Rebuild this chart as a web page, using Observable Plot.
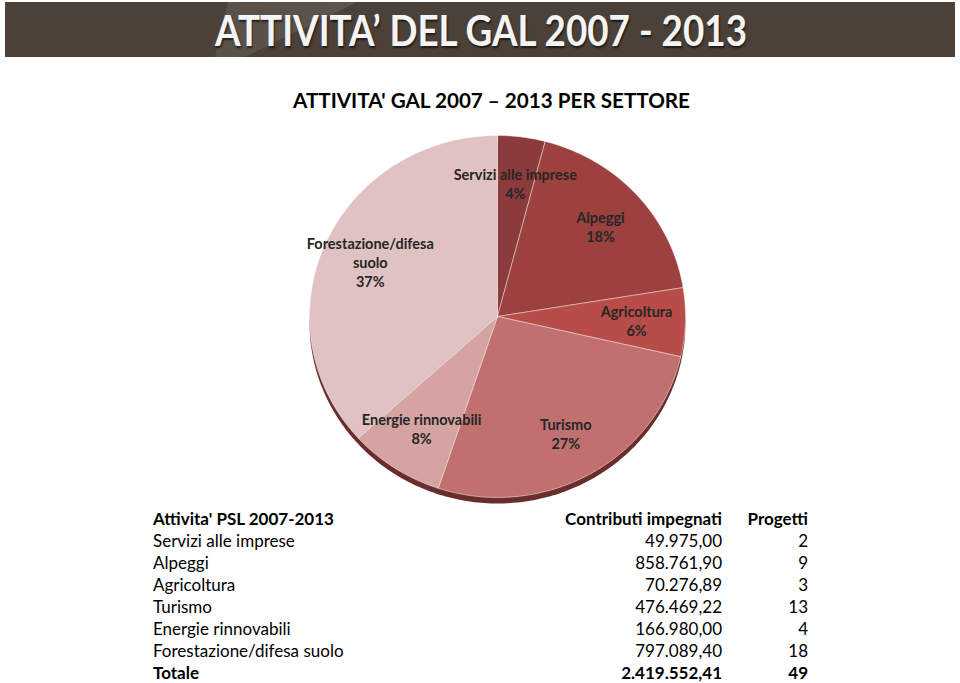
<!DOCTYPE html>
<html>
<head>
<meta charset="utf-8">
<script src="https://cdn.jsdelivr.net/npm/d3@7"></script>
<script src="https://cdn.jsdelivr.net/npm/@observablehq/plot@0.6"></script>
<style>
  html, body { margin: 0; padding: 0; background: #fff; }
  body { width: 960px; height: 683px; position: relative; overflow: hidden; font-family: Lato, "Open Sans", sans-serif; }
  #banner { position: absolute; left: 5px; top: 2px; width: 950px; height: 55px; background: #4b4138; overflow: hidden; }
  #stripe { position: absolute; left: 0; top: 0; width: 950px; height: 55px;
            background: linear-gradient(90deg, rgba(255,255,255,0.06), rgba(255,255,255,0.16));
            clip-path: polygon(223px 0, 352px 0, 240px 55px, 210px 55px); }
  #banner-text { position: absolute; top: 3px; left: 0; white-space: nowrap; color: #f4f4f4; font-weight: 700;
                 font-size: 42px; line-height: 50px; text-shadow: 1px 2px 2px rgba(0,0,0,0.6); transform-origin: 0 0; }
  #title { position: absolute; top: 87px; left: 0; white-space: nowrap; font-weight: 700; font-size: 21px; color: #000; transform-origin: 0 0; }
  #chart { position: absolute; left: 0; top: 120px; }
  #table { position: absolute; left: 153px; top: 508px; width: 655px; font-size: 17px; color: #000; }
  .row { display: grid; grid-template-columns: 400px 169px 86px; height: 22px; line-height: 22px; }
  .row div:nth-child(2), .row div:nth-child(3) { text-align: right; }
  .bold { font-weight: 700; }
</style>
</head>
<body>
<div id="banner"><div id="stripe"></div><div id="banner-text">ATTIVITA’ DEL GAL 2007 - 2013</div></div>
<div id="title">ATTIVITA' GAL 2007 – 2013 PER SETTORE</div>
<div id="chart"></div>
<div id="table"></div>
<script>
// ---- data ----
const categories = ["Servizi alle imprese", "Alpeggi", "Agricoltura", "Turismo", "Energie rinnovabili", "Forestazione/difesa suolo"];
const pieLabels = ["Servizi alle imprese", "Alpeggi", "Agricoltura", "Turismo", "Energie rinnovabili", "Forestazione/difesa\nsuolo"];
const contributi = [49975.00, 858761.90, 70276.89, 476469.22, 166980.00, 797089.40];
const progetti = [2, 9, 3, 13, 4, 18];
const colors = ["#8b3b3b", "#9d413f", "#b84c48", "#c0706f", "#d5a3a2", "#e1c2c2"];
const tableHeader = ["Attivita' PSL 2007-2013", "Contributi impegnati", "Progetti"];
const totalLabel = "Totale";

// ---- fit headline texts ----
function fit(el, left, width) {
  const w = el.getBoundingClientRect().width;
  el.style.transform = `scaleX(${width / w})`;
  el.style.left = left + "px";
}
fit(document.getElementById("banner-text"), 210, 532);
fit(document.getElementById("title"), 293, 397);

// ---- pie geometry via d3.pie ----
const totalProj = d3.sum(progetti);
const arcs = d3.pie().sort(null).value(d => d)(progetti);
const slices = arcs.map((a, i) => {
  const pts = [{x: 0, y: 0}];
  const n = Math.max(2, Math.ceil((a.endAngle - a.startAngle) / (Math.PI / 180)));
  for (let k = 0; k <= n; k++) {
    const t = a.startAngle + (a.endAngle - a.startAngle) * k / n;
    pts.push({x: Math.sin(t), y: Math.cos(t)});
  }
  pts.push({x: 0, y: 0});
  return {name: categories[i], pts};
});
const rimPts = d3.range(0, 361).map(dg => ({x: Math.sin(dg * Math.PI / 180), y: Math.cos(dg * Math.PI / 180)}));
const labelR = 0.74;
const labels = arcs.map((a, i) => {
  const m = (a.startAngle + a.endAngle) / 2;
  return {x: labelR * Math.sin(m), y: labelR * Math.cos(m),
          text: pieLabels[i] + "\n" + Math.round(progetti[i] / totalProj * 100) + "%"};
});

const plot = Plot.plot({
  width: 960, height: 390, margin: 0,
  style: {background: "transparent", fontFamily: "Lato, sans-serif"},
  x: {domain: [-1, 1], range: [309, 685], axis: null},
  y: {domain: [-1, 1], range: [377, 15], axis: null},
  marks: [
    Plot.line(rimPts, {x: "x", y: "y", fill: "#6b2c2c", stroke: "none", dy: 6}),
    ...slices.map((s, i) => Plot.line(s.pts, {x: "x", y: "y", fill: colors[i], stroke: "rgba(255,255,255,0.6)", strokeWidth: 0.8})),
    Plot.text(labels, {x: "x", y: "y", text: "text", fontSize: 14.5, fontWeight: "bold", fill: "#262626", lineHeight: 1.3})
  ]
});
document.getElementById("chart").appendChild(plot);

// ---- table ----
const it = d3.formatLocale({decimal: ",", thousands: ".", grouping: [3], currency: ["", ""]});
const fmt = it.format(",.2f");
const rows = [tableHeader].concat(categories.map((c, i) => [c, fmt(contributi[i]), String(progetti[i])]))
  .concat([[totalLabel, fmt(d3.sum(contributi)), String(totalProj)]]);
const tbl = d3.select("#table");
rows.forEach((r, i) => {
  const row = tbl.append("div").attr("class", "row" + (i === 0 || i === rows.length - 1 ? " bold" : ""));
  r.forEach(v => row.append("div").text(v));
});
</script>
</body>
</html>
